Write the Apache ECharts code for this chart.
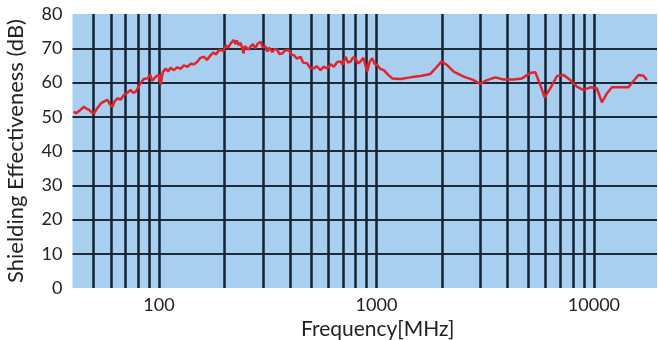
<!DOCTYPE html>
<html>
<head>
<meta charset="utf-8">
<script src="https://cdn.jsdelivr.net/npm/echarts@6/dist/echarts.min.js"></script>
<style>
  html, body { margin: 0; padding: 0; background: #ffffff; }
  #chart { width: 658px; height: 340px; }
</style>
</head>
<body>
<div id="chart"></div>
<script>
// Frequency (MHz) of each measured point
const freqs = [
  40.5, 41.5, 42.2, 43.5, 45.2, 46.5, 47.7, 49, 50.3, 52, 54, 56, 57.9, 59.5, 61.1, 62.5, 64.4, 66.5, 69.1, 71.5,
  74.1, 76, 78.2, 80.5, 82.4, 85, 88.4, 91, 93, 94.8, 97, 100, 101.8, 104, 107.3, 110, 113, 117.2, 121, 126,
  130, 135.1, 140, 145, 150.1, 155, 160.9, 166, 172.8, 178, 183, 188.7, 192.1, 198, 203, 208, 213.5, 217, 220.4, 225,
  228, 232.3, 237, 241, 244.9, 248, 253, 258, 263.8, 270, 277, 284, 293.2, 300, 309.1, 315, 320, 331.8, 340, 349.9,
  358, 368.8, 380, 395.6, 405, 417.1, 430, 447.7, 460, 480.5, 495, 515.2, 530, 553.3, 570, 593.8, 615, 636.9, 660, 683.3,
  700, 720.4, 740, 759.6, 780, 800.8, 820, 844.3, 870, 890, 906.4, 930, 955.5, 980, 1007, 1040, 1080, 1130, 1181, 1289,
  1433, 1593, 1770, 1866, 1989, 2113, 2265, 2518, 2799, 2983, 3225, 3521, 3845, 4273, 4670, 5099, 5376, 5666, 5932, 6300,
  6761, 7253, 7783, 8354, 8960, 9616, 10323, 10881, 11473, 12096, 13208, 14416, 15473, 16025, 16894, 17515
];
// Shielding effectiveness (dB) at each frequency
const seValues = [
  51.5, 51.0, 51.2, 52.0, 52.9, 52.3, 52.0, 51.3, 51.0, 52.5, 53.9, 54.5, 54.9, 53.6, 52.9, 54.5, 55.4, 55.0, 56.4, 57.0,
  57.8, 57.0, 57.3, 58.8, 59.8, 61.0, 61.2, 62.3, 60.5, 60.7, 61.8, 62.2, 59.3, 63.0, 64.1, 63.2, 64.3, 63.6, 64.4, 64.0,
  65.0, 64.6, 65.5, 65.3, 66.1, 67.2, 67.5, 66.6, 68.0, 68.8, 68.2, 69.5, 70.0, 69.3, 70.8, 70.2, 71.4, 71.0, 72.4, 71.2,
  72.3, 70.9, 71.6, 70.2, 68.5, 70.6, 70.5, 69.6, 70.5, 71.2, 70.0, 71.3, 71.9, 70.3, 70.5, 69.0, 70.2, 68.9, 69.8, 69.5,
  68.3, 68.5, 69.4, 69.5, 68.2, 68.0, 67.0, 67.5, 65.8, 65.6, 64.2, 64.1, 64.8, 63.6, 64.6, 64.1, 65.3, 64.6, 66.0, 66.1,
  65.2, 67.5, 65.8, 66.1, 67.3, 67.1, 65.6, 66.1, 67.2, 65.0, 63.2, 66.0, 67.1, 65.5, 65.1, 64.0, 63.6, 62.3, 61.2, 61.0,
  61.5, 61.9, 62.5, 64.1, 66.1, 65.1, 63.2, 61.7, 60.7, 59.6, 60.7, 61.5, 60.9, 60.9, 61.2, 62.8, 63.0, 59.3, 55.7, 58.3,
  61.9, 62.2, 60.7, 58.8, 57.8, 58.6, 58.3, 54.2, 56.8, 58.6, 58.6, 58.6, 61.0, 62.2, 62.0, 60.7
];
// Vertical grid line positions (MHz)
const gridFreqs = [50, 60, 70, 80, 90, 100, 200, 300, 400, 500, 600, 700, 800, 900, 1000,
  2000, 3000, 4000, 5000, 6000, 7000, 8000, 9000, 10000];
// Labelled x ticks
const xTickLabels = [100, 1000, 10000];
const xMin = 40, xMax = 19500;
const yMin = 0, yMax = 80, yStep = 10;

const chart = echarts.init(document.getElementById('chart'), null, { renderer: 'canvas' });
const FONT = 'Lato';
chart.setOption({
  animation: false,
  grid: {
    left: 72.5, right: 1, top: 14, bottom: 52,
    outerBoundsMode: 'none', containLabel: false,
    show: true, backgroundColor: '#a8cfef', borderWidth: 0
  },
  xAxis: {
    type: 'log', logBase: 10, min: xMin, max: xMax,
    name: 'Frequency[MHz]', nameLocation: 'middle', nameGap: 29,
    nameTextStyle: { fontFamily: FONT, fontSize: 21, color: '#222', padding: [0, 0, 0, 26] },
    axisLine: { show: false }, axisTick: { show: false },
    splitLine: { show: false },
    axisLabel: {
      fontFamily: FONT, fontSize: 18, color: '#222', margin: 8,
      formatter: function (v) {
        for (const t of xTickLabels) { if (Math.abs(v - t) / t < 1e-6) return String(t); }
        return '';
      }
    }
  },
  yAxis: {
    type: 'value', min: yMin, max: yMax, interval: yStep,
    name: 'Shielding Effectiveness (dB)', nameLocation: 'middle', nameGap: 46,
    nameTextStyle: { fontFamily: FONT, fontSize: 22, color: '#222' },
    axisLine: { show: false }, axisTick: { show: false },
    axisLabel: { fontFamily: FONT, fontSize: 18, color: '#222', margin: 10 },
    splitLine: { show: true, showMinLine: false, showMaxLine: false, lineStyle: { color: '#1d2a3a', width: 2 } }
  },
  series: [{
    type: 'line',
    data: freqs.map((f, i) => [f, seValues[i]]),
    showSymbol: false, symbol: 'none',
    lineStyle: { color: '#e3232b', width: 2.5 },
    z: 5,
    markLine: {
      silent: true, symbol: ['none', 'none'], z: 2,
      label: { show: false },
      lineStyle: { color: '#152232', width: 2.5, type: 'solid' },
      data: gridFreqs.map(f => ({ xAxis: f }))
    }
  }]
});
</script>
</body>
</html>
